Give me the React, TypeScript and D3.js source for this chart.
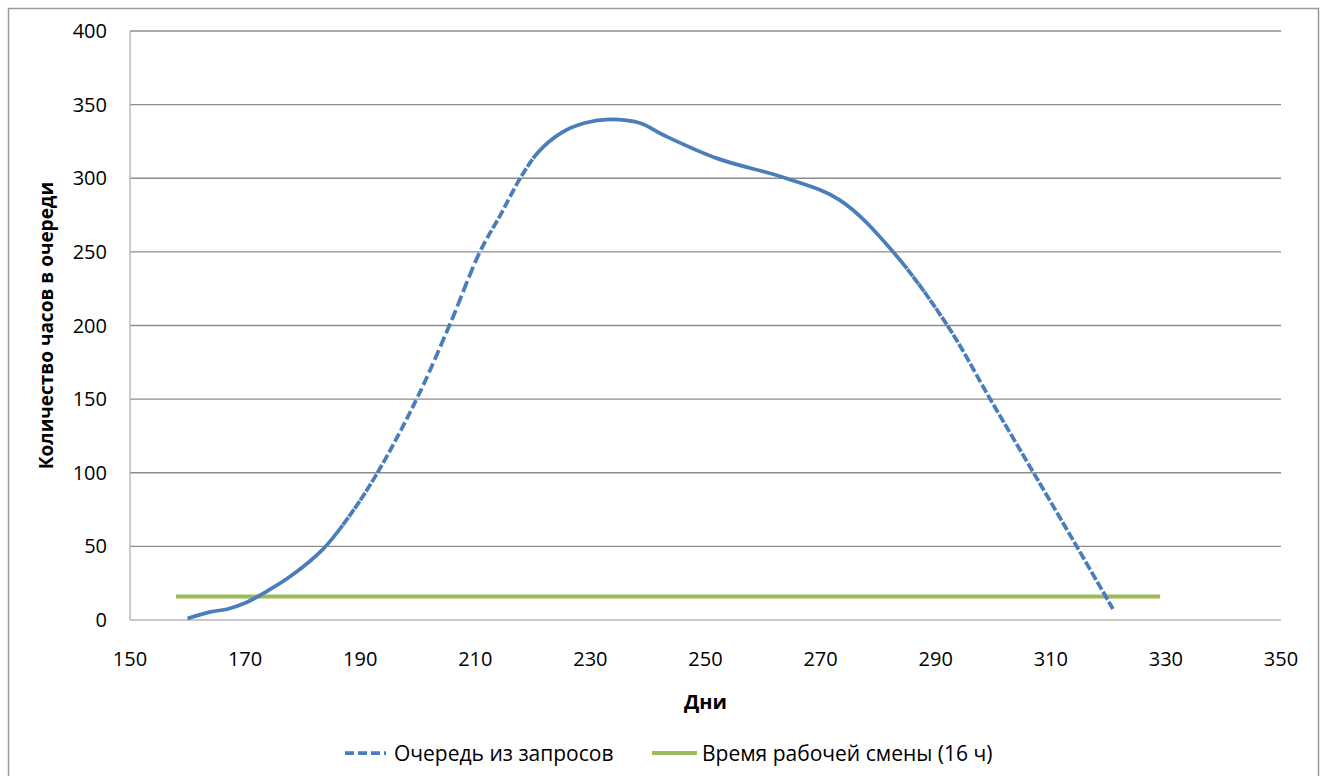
import React, { useEffect, useRef } from 'react';
import * as d3 from 'd3';

// queue of requests (hours) by day
const queueDays = [160, 164, 167, 170, 174, 178, 183.5, 188, 193, 199.8, 205.5, 210.8, 214.5, 217.8, 221, 225, 229, 233.3, 238.6, 242.6, 252, 264, 273.4, 282.6, 292.2, 299.4, 307, 314.5, 320.8];
const queueHours = [1, 5.5, 7.5, 11.5, 20, 30, 48, 70, 100, 150, 200, 250, 276, 300, 318, 331, 337.5, 340, 337.5, 329.5, 313.5, 300, 285, 250, 199, 150.5, 100, 50, 7.5];

// work shift length (16 h)
const shiftDays = [158, 329];
const shiftHours = [16, 16];

const xTicks = [150, 170, 190, 210, 230, 250, 270, 290, 310, 330, 350];
const yTicks = [0, 50, 100, 150, 200, 250, 300, 350, 400];

const seriesNames = ['Очередь из запросов', 'Время рабочей смены (16 ч)'];
const xTitle = 'Дни';
const yTitle = 'Количество часов в очереди';

const W = 1325;
const H = 776;
const plot = { left: 130, right: 1281, top: 31, bottom: 620 };
const FONT = '"Open Sans", "Noto Sans", sans-serif';
const BLUE = '#4a7ebb';
const GREEN = '#9bbb59';
const DASH = 9;
const GAP = 4;

export default function App() {
  const queueRef = useRef<SVGPathElement>(null);

  const x = d3.scaleLinear().domain([150, 350]).range([plot.left, plot.right]);
  const y = d3.scaleLinear().domain([0, 400]).range([plot.bottom, plot.top]);

  const queueLine = d3.line<number>()
    .x((d, i) => x(queueDays[i]))
    .y(d => y(d))
    .curve(d3.curveCatmullRom.alpha(0.5));

  const shiftLine = d3.line<number>()
    .x((d, i) => x(shiftDays[i]))
    .y(d => y(d));

  // excel restarts the dash at each daily point, so flat parts look solid
  useEffect(() => {
    const path = queueRef.current;
    if (!path) return;
    const total = path.getTotalLength();
    const lastDay = Math.ceil(queueDays[queueDays.length - 1]);
    const cuts: number[] = [0];
    let day = Math.floor(queueDays[0]) + 1;
    for (let l = 0; l <= total; l += 0.5) {
      const px = path.getPointAtLength(l).x;
      while (day < lastDay && px >= x(day)) {
        cuts.push(l);
        day++;
      }
    }
    cuts.push(total);

    const runs: number[] = [];
    const push = (len: number, on: boolean) => {
      if (runs.length === 0 && !on) runs.push(0);
      const lastOn = (runs.length - 1) % 2 === 0;
      if (runs.length > 0 && lastOn === on) runs[runs.length - 1] += len;
      else runs.push(len);
    };
    for (let i = 1; i < cuts.length; i++) {
      let rem = cuts[i] - cuts[i - 1];
      let on = true;
      while (rem > 0.001) {
        const piece = Math.min(rem, on ? DASH : GAP);
        push(piece, on);
        rem -= piece;
        on = !on;
      }
    }
    push(1000, false);
    path.setAttribute('stroke-dasharray', runs.map(v => v.toFixed(2)).join(' '));
  }, []);

  return (
    <svg width={W} height={H} style={{ position: 'absolute', left: 0, top: 0 }} fontFamily={FONT}>
      <rect x={0} y={0} width={W} height={H} fill="#fff" />
      <rect x={8.5} y={8.5} width={1310} height={800} fill="none" stroke="#9a9a9a" strokeWidth={1.5} />

      {yTicks.map(t => (
        <line key={'g' + t} x1={plot.left} x2={plot.right} y1={y(t)} y2={y(t)}
          stroke={t === 0 ? '#b4b4b4' : '#8c8c8c'} strokeWidth={1.4} />
      ))}
      <line x1={plot.left} x2={plot.left} y1={plot.top} y2={plot.bottom} stroke="#b4b4b4" strokeWidth={1.4} />

      {yTicks.map(t => (
        <text key={'y' + t} x={107} y={y(t) + 7} textAnchor="end" fontSize={20} fill="#000">{t}</text>
      ))}
      {xTicks.map(t => (
        <text key={'x' + t} x={x(t)} y={666} textAnchor="middle" fontSize={20} fill="#000">{t}</text>
      ))}

      <text x={x(250)} y={709} textAnchor="middle" fontSize={20} fontWeight="bold">{xTitle}</text>
      <text transform={`translate(53, ${(plot.top + plot.bottom) / 2}) rotate(-90)`} textAnchor="middle"
        fontSize={19} fontWeight="bold">{yTitle}</text>

      <path d={shiftLine(shiftHours) ?? ''} fill="none" stroke={GREEN} strokeWidth={4} />
      <path ref={queueRef} d={queueLine(queueHours) ?? ''} fill="none" stroke={BLUE} strokeWidth={3.75} />

      <line x1={345} x2={386} y1={753} y2={753} stroke={BLUE} strokeWidth={3.75} strokeDasharray={`${DASH} ${GAP}`} />
      <text x={394} y={761} fontSize={21}>{seriesNames[0]}</text>
      <line x1={652} x2={697} y1={753} y2={753} stroke={GREEN} strokeWidth={4} />
      <text x={702} y={761} fontSize={21}>{seriesNames[1]}</text>
    </svg>
  );
}
